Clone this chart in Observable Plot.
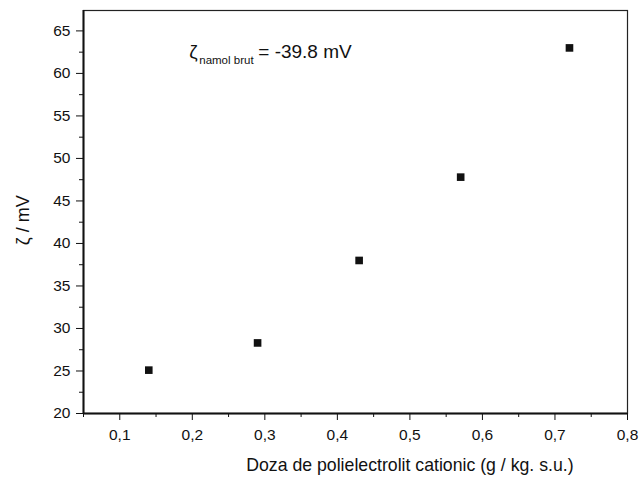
<!DOCTYPE html>
<html><head><meta charset="utf-8">
<script src="https://cdn.jsdelivr.net/npm/d3@7"></script>
<script src="https://cdn.jsdelivr.net/npm/@observablehq/plot@0.6"></script>
<style>body{margin:0;background:#fff;font-family:"Liberation Sans",Arial,sans-serif}</style>
</head><body><div id="chart"></div>
<script>
const doses = [0.14, 0.29, 0.43, 0.57, 0.72];
const zeta = [25.1, 28.3, 38.0, 47.8, 63.0];
const xTicks = [0.1, 0.2, 0.3, 0.4, 0.5, 0.6, 0.7, 0.8];
const xMinor = [0.05, 0.15, 0.25, 0.35, 0.45, 0.55, 0.65, 0.75];
const yTicks = [20, 25, 30, 35, 40, 45, 50, 55, 60, 65];
const yMinor = [22.5, 27.5, 32.5, 37.5, 42.5, 47.5, 52.5, 57.5, 62.5];
const xLabel = "Doza de polielectrolit cationic (g / kg. s.u.)";
const yLabel = "ζ / mV";
const annot = {symbol: "ζ", sub: "namol brut", rest: "= -39.8 mV", x: 0.1958, y: 62.5};

const data = doses.map((d, i) => ({x: d, y: zeta[i]}));
const fmt = v => d3.format(".1f")(v).replace(".", ",");

const chart = Plot.plot({
  width: 639, height: 490,
  marginLeft: 83, marginRight: 12, marginTop: 10, marginBottom: 77,
  style: {fontFamily: "Liberation Sans, Arial, sans-serif", fontSize: "15px", color: "#000"},
  x: {domain: [0.05, 0.8]},
  y: {domain: [20, 67.4]},
  marks: [
    Plot.frame({stroke: "#222", strokeWidth: 1.2}),
    Plot.ruleX([0.05], {stroke: "#111", strokeWidth: 2}),
    Plot.ruleY([20], {stroke: "#111", strokeWidth: 2}),
    Plot.axisX({ticks: xTicks, tickSize: 7, tickPadding: 8, tickFormat: fmt, label: null, fontSize: 15, stroke: "#111", fill: "#111"}),
    Plot.axisX({ticks: xMinor, tickSize: 4, tickFormat: () => "", label: null, stroke: "#111"}),
    Plot.axisY({ticks: yTicks, tickSize: 7, tickPadding: 6, tickFormat: d3.format("d"), label: null, fontSize: 15, stroke: "#111", fill: "#111"}),
    Plot.axisY({ticks: yMinor, tickSize: 4, tickFormat: () => "", label: null, stroke: "#111"}),
    Plot.dot(data, {x: "x", y: "y", symbol: "square", r: 4.3, fill: "#111", stroke: "none"}),
    Plot.text([annot], {x: "x", y: "y", text: "symbol", textAnchor: "start", fontSize: 19, fill: "#111"}),
    Plot.text([annot], {x: "x", y: "y", text: "sub", textAnchor: "start", fontSize: 11.5, dx: 10, dy: 8, fill: "#111"}),
    Plot.text([annot], {x: "x", y: "y", text: "rest", textAnchor: "start", fontSize: 19, dx: 69, fill: "#111"}),
    Plot.text([xLabel], {frameAnchor: "bottom", x: 0.5, dy: 57, fontSize: 17.7, fill: "#111"}),
    Plot.text([yLabel], {frameAnchor: "left", y: 39.8, dx: -60, rotate: -90, fontSize: 18, fill: "#111"})
  ]
});
d3.select(chart).selectAll('g[aria-label$="tick label"]').attr("font-size", 15.5);
document.getElementById("chart").append(chart);
</script></body></html>
